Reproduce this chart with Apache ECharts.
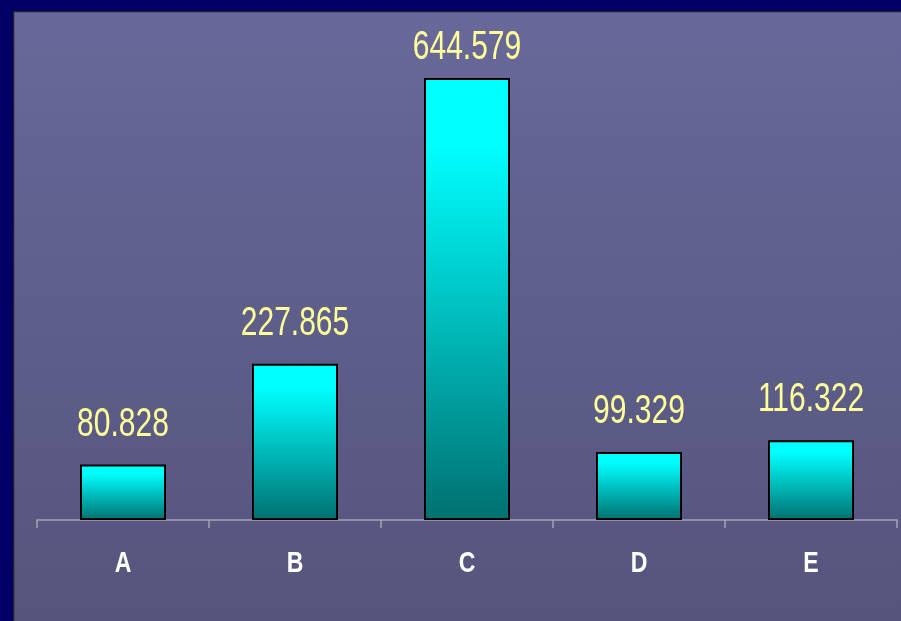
<!DOCTYPE html>
<html>
<head>
<meta charset="utf-8">
<script src="https://cdn.jsdelivr.net/npm/echarts@6/dist/echarts.min.js"></script>
<style>
  html, body { margin: 0; padding: 0; background: #000066; }
  #main { width: 901px; height: 621px; }
</style>
</head>
<body>
<div id="main"></div>
<script>
var categories = ['A', 'B', 'C', 'D', 'E'];
var values = [80.828, 227.865, 644.579, 99.329, 116.322];

// the original uses a narrow font, so labels are drawn squeezed
var narrow = 0.75;
var labelTopLimit = 68; // labels are kept inside the plot

var barColor = {
    type: 'linear', x: 0, y: 0, x2: 0, y2: 1,
    colorStops: [
        { offset: 0, color: '#00ffff' },
        { offset: 0.15, color: '#00ffff' },
        { offset: 1, color: '#007070' }
    ]
};

var option = {
    backgroundColor: '#000066',
    animation: false,
    graphic: [{
        type: 'rect',
        z: -10,
        shape: { x: 13.5, y: 11.5, width: 900, height: 620 },
        style: {
            fill: {
                type: 'linear', x: 0, y: 0, x2: 0, y2: 1,
                colorStops: [
                    { offset: 0, color: '#68689a' },
                    { offset: 1, color: '#54547c' }
                ]
            },
            stroke: '#1e1e30',
            lineWidth: 1.5
        }
    }],
    grid: { left: 37, right: 4, top: 40, bottom: 101 },
    xAxis: {
        type: 'category',
        data: categories,
        axisLine: { lineStyle: { color: '#a4a4b4', width: 1.5 } },
        axisTick: { show: true, length: 8, lineStyle: { color: '#a4a4b4', width: 1.5 } },
        axisLabel: { show: false }
    },
    yAxis: {
        type: 'value',
        min: 0,
        max: 700,
        show: false
    },
    series: [{
        type: 'bar',
        data: values,
        barWidth: '50%',
        itemStyle: {
            color: barColor,
            borderColor: '#000000',
            borderWidth: 2
        }
    }, {
        // value labels
        type: 'custom',
        data: values.map(function (v, i) { return [i, v]; }),
        z: 5,
        renderItem: function (params, api) {
            var pt = api.coord([api.value(0), api.value(1)]);
            return {
                type: 'text',
                x: pt[0],
                y: Math.max(pt[1] - 20, labelTopLimit),
                scaleX: narrow,
                style: {
                    text: String(values[params.dataIndex]),
                    fill: '#ffff99',
                    font: '40px "Liberation Sans", Arial, sans-serif',
                    align: 'center',
                    verticalAlign: 'bottom'
                }
            };
        }
    }, {
        // category labels
        type: 'custom',
        data: categories.map(function (c, i) { return [i, 0]; }),
        z: 5,
        renderItem: function (params, api) {
            var pt = api.coord([api.value(0), 0]);
            return {
                type: 'text',
                x: pt[0],
                y: pt[1] + 44,
                scaleX: 0.77,
                style: {
                    text: categories[params.dataIndex],
                    fill: '#ffffff',
                    font: 'bold 30px "Liberation Sans", Arial, sans-serif',
                    align: 'center',
                    verticalAlign: 'middle'
                }
            };
        }
    }]
};

var myChart = echarts.init(document.getElementById('main'));
myChart.setOption(option);
</script>
</body>
</html>
